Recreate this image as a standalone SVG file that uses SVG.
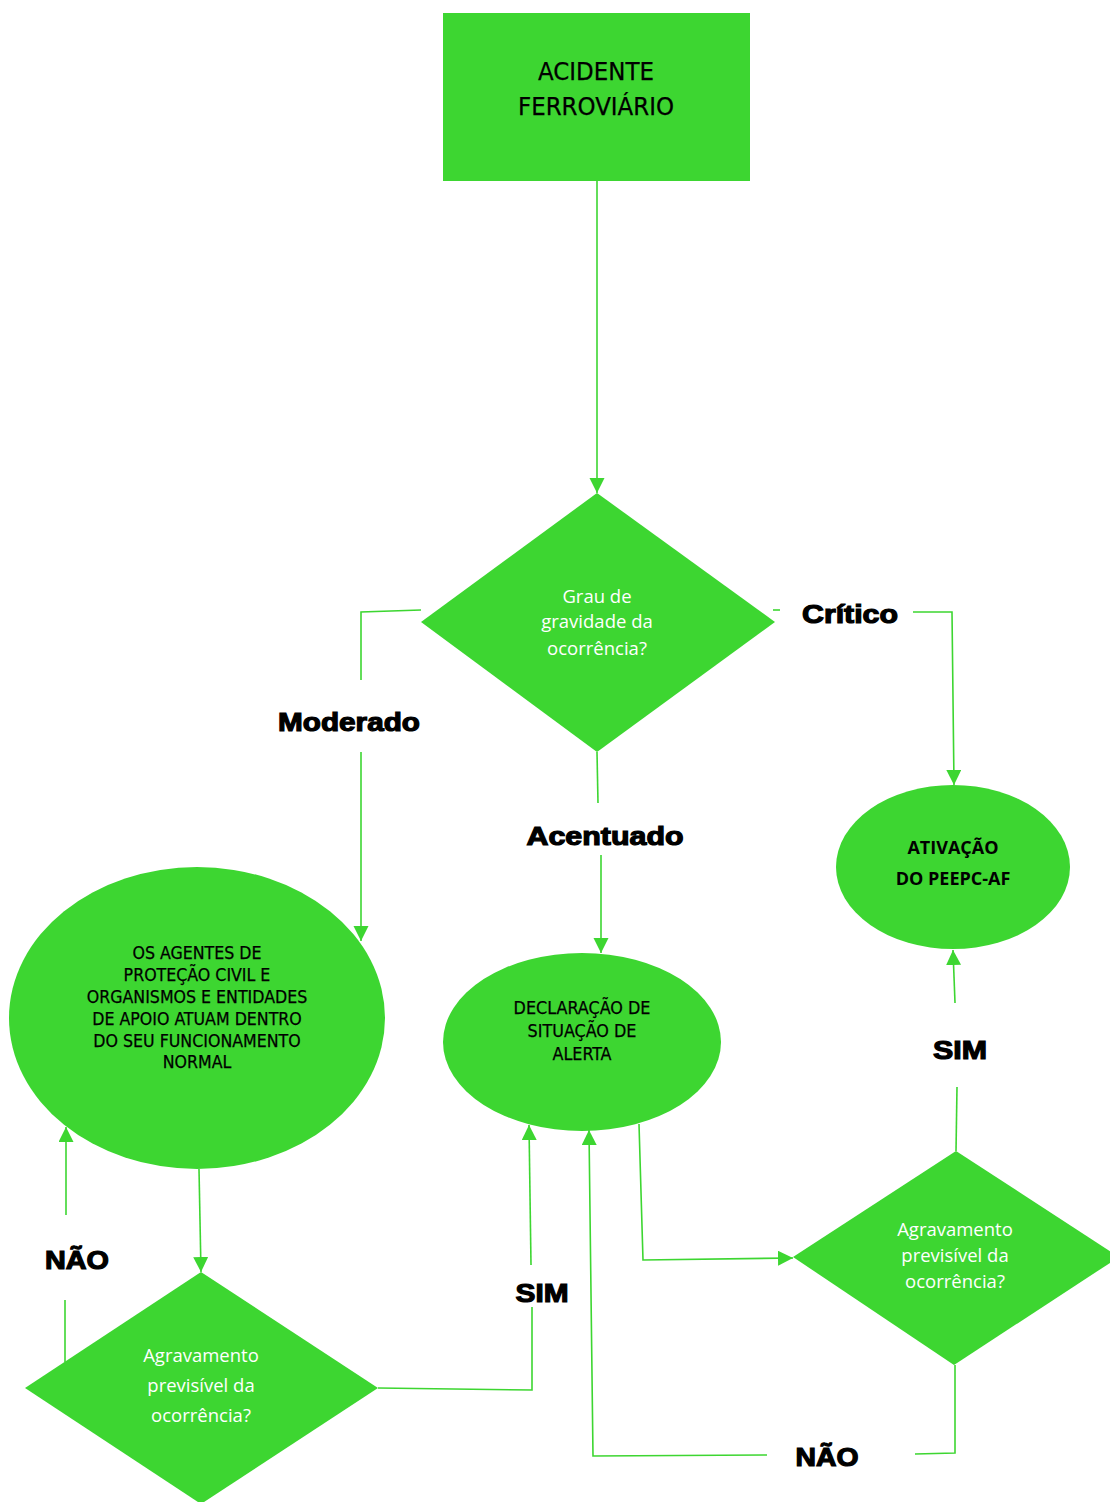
<svg xmlns="http://www.w3.org/2000/svg" width="1110" height="1502" viewBox="0 0 1110 1502">
<style>
.shape{fill:#3dd631;}
.box{font-family:"DejaVu Sans Condensed","DejaVu Sans",sans-serif;fill:#000;stroke:#000;stroke-width:0.25;text-anchor:middle;}
.q{font-family:"Open Sans","Noto Sans",sans-serif;fill:#fff;text-anchor:middle;font-size:18.5px;}
.bq{font-family:"Open Sans","Noto Sans",sans-serif;fill:#000;text-anchor:middle;font-size:18px;font-weight:bold;}
.lbl{font-family:"Liberation Sans",Arial,sans-serif;font-weight:bold;fill:#000;stroke:#000;stroke-width:1.2;text-anchor:middle;font-size:26px;}
.c{fill:none;stroke:#3dd631;stroke-width:1.6;}
</style>
<defs>
<marker id="ah" markerUnits="userSpaceOnUse" markerWidth="16" markerHeight="16" refX="15" refY="7.5" orient="auto">
<path d="M0,0 L15,7.5 L0,15 z" fill="#3dd631"/>
</marker>
</defs>
<rect width="1110" height="1502" fill="#fff"/>

<g id="n-acidente">
<rect class="shape" x="443" y="13" width="307" height="168"/>
<text class="box" font-size="25.5" x="596" y="80">ACIDENTE</text>
<text class="box" font-size="25.5" x="596" y="115">FERROVIÁRIO</text>
</g>

<g id="n-grau">
<polygon class="shape" points="597,493 775,622 597,752 421,622"/>
<text class="q" x="597" y="603">Grau de</text>
<text class="q" x="597" y="628">gravidade da</text>
<text class="q" x="597" y="655">ocorrência?</text>
</g>

<g id="n-agentes">
<ellipse class="shape" cx="197" cy="1018" rx="188" ry="151"/>
<text class="box" font-size="17.6" x="197" y="959">OS AGENTES DE</text>
<text class="box" font-size="17.6" x="197" y="981">PROTEÇÃO CIVIL E</text>
<text class="box" font-size="17.6" x="197" y="1003">ORGANISMOS E ENTIDADES</text>
<text class="box" font-size="17.6" x="197" y="1025">DE APOIO ATUAM DENTRO</text>
<text class="box" font-size="17.6" x="197" y="1047">DO SEU FUNCIONAMENTO</text>
<text class="box" font-size="17.6" x="197" y="1068">NORMAL</text>
</g>

<g id="n-alerta">
<ellipse class="shape" cx="582" cy="1042" rx="139" ry="89"/>
<text class="box" font-size="17.8" x="582" y="1014">DECLARAÇÃO DE</text>
<text class="box" font-size="17.8" x="582" y="1037">SITUAÇÃO DE</text>
<text class="box" font-size="17.8" x="582" y="1060">ALERTA</text>
</g>

<g id="n-ativacao">
<ellipse class="shape" cx="953" cy="867" rx="117" ry="82"/>
<text class="bq" x="953" y="854">ATIVAÇÃO</text>
<text class="bq" x="953" y="885">DO PEEPC-AF</text>
</g>

<g id="n-agrav1">
<polygon class="shape" points="201,1272 378,1388 201,1504 25,1388"/>
<text class="q" x="201" y="1362">Agravamento</text>
<text class="q" x="201" y="1392">previsível da</text>
<text class="q" x="201" y="1422">ocorrência?</text>
</g>

<g id="n-agrav2">
<polygon class="shape" points="956,1151 1119,1257 954,1365 793,1257"/>
<text class="q" x="955" y="1236">Agravamento</text>
<text class="q" x="955" y="1262">previsível da</text>
<text class="q" x="955" y="1288">ocorrência?</text>
</g>

<g id="connectors">
<path class="c" d="M597,181 L597,493" marker-end="url(#ah)"/>
<path class="c" d="M421,610 L361,612 L361,680"/>
<path class="c" d="M361,752 L361,941" marker-end="url(#ah)"/>
<path class="c" d="M773,610 L780,610"/>
<path class="c" d="M913,612 L952,612 L954,785" marker-end="url(#ah)"/>
<path class="c" d="M597,752 L598,803"/>
<path class="c" d="M601,855 L601,953" marker-end="url(#ah)"/>
<path class="c" d="M199,1169 L201,1272" marker-end="url(#ah)"/>
<path class="c" d="M65,1362 L65,1300"/>
<path class="c" d="M66,1215 L66,1127" marker-end="url(#ah)"/>
<path class="c" d="M378,1388 L532,1390 L532,1307"/>
<path class="c" d="M531,1265 L529,1125" marker-end="url(#ah)"/>
<path class="c" d="M639,1124 L643,1260 L793,1258" marker-end="url(#ah)"/>
<path class="c" d="M955,1365 L955,1453 L915,1454"/>
<path class="c" d="M767,1455 L593,1456 L589,1130" marker-end="url(#ah)"/>
<path class="c" d="M956,1151 L957,1087"/>
<path class="c" d="M955,1003 L953,950" marker-end="url(#ah)"/>
<text class="lbl" x="349" y="731" textLength="142" lengthAdjust="spacingAndGlyphs">Moderado</text>
<text class="lbl" x="850" y="623" textLength="96" lengthAdjust="spacingAndGlyphs">Crítico</text>
<text class="lbl" x="605" y="845" textLength="157" lengthAdjust="spacingAndGlyphs">Acentuado</text>
<text class="lbl" x="77" y="1269" textLength="64" lengthAdjust="spacingAndGlyphs">NÃO</text>
<text class="lbl" x="542" y="1302" textLength="53" lengthAdjust="spacingAndGlyphs">SIM</text>
<text class="lbl" x="960" y="1059" textLength="54" lengthAdjust="spacingAndGlyphs">SIM</text>
<text class="lbl" x="827" y="1466" textLength="63" lengthAdjust="spacingAndGlyphs">NÃO</text>
</g>
</svg>
